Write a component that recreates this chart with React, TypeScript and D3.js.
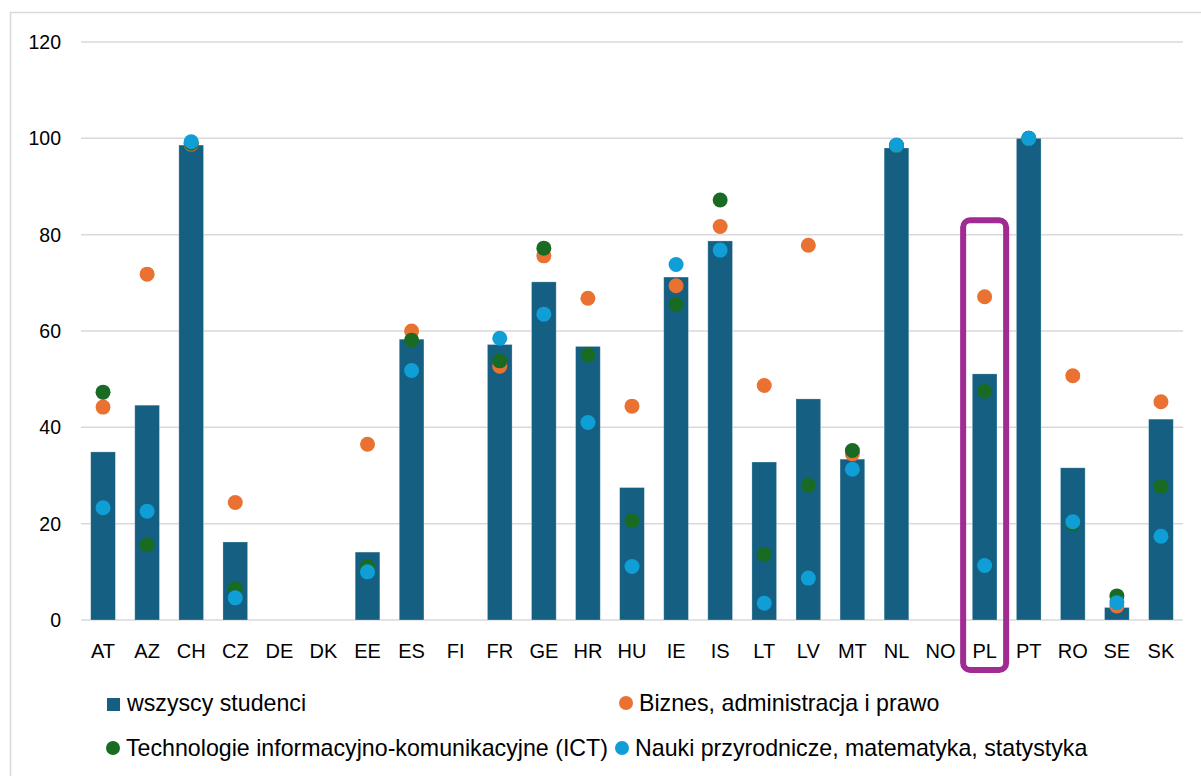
import * as d3 from "d3"
import { useEffect, useRef } from "react"

const countries = [
  "AT", "AZ", "CH", "CZ", "DE", "DK", "EE", "ES", "FI", "FR", "GE", "HR", "HU",
  "IE", "IS", "LT", "LV", "MT", "NL", "NO", "PL", "PT", "RO", "SE", "SK",
]

// null = brak danych
const allStudents = [
  34.9, 44.6, 98.6, 16.2, null, null, 14.1, 58.3, null, 57.2, 70.2, 56.8, 27.5,
  71.2, 78.7, 32.8, 45.9, 33.4, 98.0, null, 51.1, 100, 31.6, 2.6, 41.7,
]
const business = [
  44.2, 71.8, 98.8, 24.4, null, null, 36.5, 60.0, null, 52.7, 75.6, 66.8, 44.4,
  69.4, 81.7, 48.7, 77.8, 34.5, 98.5, null, 67.1, 100, 50.7, 2.9, 45.3,
]
const ict = [
  47.3, 15.6, 99.0, 6.6, null, null, 11.1, 58.1, null, 53.8, 77.2, 55.0, 20.6,
  65.5, 87.2, 13.6, 28.0, 35.2, 98.5, null, 47.5, 100, 20.0, 5.0, 27.7,
]
const science = [
  23.3, 22.6, 99.3, 4.6, null, null, 10.0, 51.8, null, 58.5, 63.5, 41.0, 11.1,
  73.8, 76.8, 3.5, 8.7, 31.3, 98.6, null, 11.3, 100, 20.4, 3.6, 17.4,
]
const yTicks = [0, 20, 40, 60, 80, 100, 120]

const highlighted = "PL"

const series = [
  { name: "Biznes, administracja i prawo", values: business, color: "#E97132" },
  { name: "Technologie informacyjno-komunikacyjne (ICT)", values: ict, color: "#196B24" },
  { name: "Nauki przyrodnicze, matematyka, statystyka", values: science, color: "#0F9ED5" },
]

const WIDTH = 1201
const HEIGHT = 776
const MARGIN = { top: 42, right: 18, bottom: 156, left: 81 }
const FONT = "'Liberation Sans', Arial, sans-serif"

const App = () => {
  const svgRef = useRef<SVGSVGElement>(null)

  useEffect(() => {
    if (!svgRef.current) return
    d3.select(svgRef.current).selectAll("*").remove()

    const svg = d3.select(svgRef.current)

    // ramka wykresu
    svg
      .append("rect")
      .attr("x", 10.5)
      .attr("y", 12.5)
      .attr("width", WIDTH)
      .attr("height", HEIGHT)
      .attr("fill", "#fff")
      .attr("stroke", "#d9d9d9")
      .attr("stroke-width", 1.5)

    const xScale = d3
      .scaleBand()
      .domain(countries)
      .range([MARGIN.left, WIDTH - MARGIN.right])
      .paddingInner(0.44)
      .paddingOuter(0.22)

    const yScale = d3
      .scaleLinear()
      .domain([0, 120])
      .range([HEIGHT - MARGIN.bottom, MARGIN.top])

    // siatka
    svg
      .append("g")
      .selectAll("line")
      .data(yTicks)
      .join("line")
      .attr("x1", MARGIN.left)
      .attr("x2", WIDTH - MARGIN.right)
      .attr("y1", (d) => yScale(d))
      .attr("y2", (d) => yScale(d))
      .attr("stroke", "#d9d9d9")
      .attr("stroke-width", 1.5)

    svg
      .append("g")
      .selectAll("text")
      .data(yTicks)
      .join("text")
      .attr("x", 61)
      .attr("y", (d) => yScale(d) + 7)
      .attr("text-anchor", "end")
      .attr("font-family", FONT)
      .attr("font-size", "19.5px")
      .attr("fill", "#000")
      .text((d) => d)

    const center = (c: string) => (xScale(c) ?? 0) + xScale.bandwidth() / 2

    // słupki
    svg
      .append("g")
      .selectAll("rect")
      .data(countries.map((c, i) => ({ c, v: allStudents[i] })).filter((d) => d.v !== null))
      .join("rect")
      .attr("x", (d) => xScale(d.c) ?? 0)
      .attr("y", (d) => yScale(d.v as number))
      .attr("width", xScale.bandwidth())
      .attr("height", (d) => yScale(0) - yScale(d.v as number))
      .attr("fill", "#156082")
      .attr("stroke", "#ffffff")
      .attr("stroke-opacity", 0.35)
      .attr("stroke-width", 0.75)

    // kropki
    series.forEach((s) => {
      svg
        .append("g")
        .selectAll("circle")
        .data(countries.map((c, i) => ({ c, v: s.values[i] })).filter((d) => d.v !== null))
        .join("circle")
        .attr("cx", (d) => center(d.c))
        .attr("cy", (d) => yScale(d.v as number))
        .attr("r", 7.5)
        .attr("fill", s.color)
    })

    // etykiety osi X
    svg
      .append("g")
      .selectAll("text")
      .data(countries)
      .join("text")
      .attr("x", (d) => center(d))
      .attr("y", yScale(0) + 38)
      .attr("text-anchor", "middle")
      .attr("font-family", FONT)
      .attr("font-size", "20px")
      .attr("fill", "#000")
      .text((d) => d)

    // wyróżnienie PL
    const hx = center(highlighted)
    svg
      .append("rect")
      .attr("x", hx - 21.5)
      .attr("y", yScale(83))
      .attr("width", 43)
      .attr("height", yScale(0) + 50 - yScale(83))
      .attr("rx", 7)
      .attr("fill", "none")
      .attr("stroke", "#A02B93")
      .attr("stroke-width", 6)

    // legenda
    const legend = [
      { name: "wszyscy studenci", color: "#156082", shape: "square", x: 107, y: 711 },
      { name: series[0].name, color: series[0].color, shape: "circle", x: 619, y: 711 },
      { name: series[1].name, color: series[1].color, shape: "circle", x: 106, y: 756 },
      { name: series[2].name, color: series[2].color, shape: "circle", x: 615, y: 756 },
    ]
    const lg = svg.append("g")
    legend.forEach((l) => {
      if (l.shape === "square") {
        lg.append("rect")
          .attr("x", l.x)
          .attr("y", l.y - 13)
          .attr("width", 13)
          .attr("height", 13)
          .attr("fill", l.color)
      } else {
        lg.append("circle")
          .attr("cx", l.x + 7)
          .attr("cy", l.y - 8)
          .attr("r", 7)
          .attr("fill", l.color)
      }
      lg.append("text")
        .attr("x", l.x + 20)
        .attr("y", l.y)
        .attr("font-family", FONT)
        .attr("font-size", "23.2px")
        .attr("fill", "#000")
        .text(l.name)
    })
  }, [])

  return (
    <svg
      ref={svgRef}
      width={WIDTH}
      height={HEIGHT}
      style={{ position: "absolute", left: 0, top: 0, display: "block" }}
    />
  )
}

export default App
